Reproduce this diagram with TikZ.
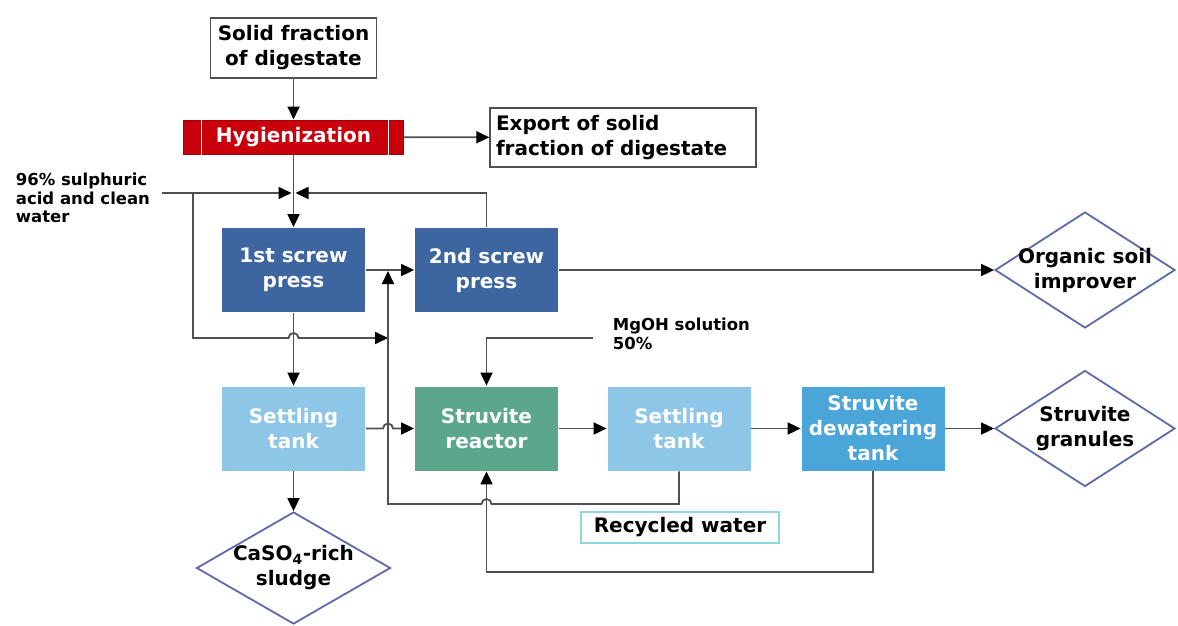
\documentclass[tikz,border=0pt]{standalone}
\usepackage{fontspec}
\setmainfont{DejaVu Sans}
\usetikzlibrary{arrows.meta,shapes.geometric}
\definecolor{linec}{HTML}{505050}
\definecolor{hygred}{HTML}{C9000B}
\definecolor{pressblue}{HTML}{3D66A0}
\definecolor{settleblue}{HTML}{8DC6E6}
\definecolor{reactgreen}{HTML}{5CA78B}
\definecolor{dewaterblue}{HTML}{4AA5D8}
\definecolor{dmdc}{HTML}{5A6BA8}
\definecolor{recycc}{HTML}{8FD8E3}
\newcommand\boxfont{\fontsize{20}{25}\selectfont\bfseries}
\newcommand\notefont{\fontsize{16.5}{18.5}\selectfont\bfseries}
\begin{document}
\begin{tikzpicture}[x=1pt,y=-1pt,line width=1.8pt,
  flow/.style={draw=linec,-{Triangle[length=13pt,width=12pt,color=black]}},
  box/.style={draw=linec,line width=1.4pt,fill=white,align=center,font=\boxfont},
  proc/.style={minimum width=143pt,minimum height=84pt,inner sep=0pt,align=center,text=white,font=\boxfont},
  outcome/.style={diamond,draw=dmdc,line width=1.8pt,inner sep=0pt,minimum width=180pt,minimum height=116pt},
  note/.style={anchor=west,inner sep=0pt,align=left,font=\notefont}]
  \useasboundingbox (0,0) rectangle (1178,626);
  % inputs and hygienization
  \node[box,minimum width=166pt,minimum height=60pt,inner sep=0pt] (solid) at (293.5,48) {Solid fraction\\of digestate};
  \node[fill=hygred,draw=hygred!80!black,line width=1pt,minimum width=220pt,minimum height=34pt,inner sep=0pt,text=white,font=\boxfont] (hyg) at (293.5,137) {Hygienization};
  \draw[white,line width=1pt] ([xshift=18pt]hyg.north west) -- ([xshift=18pt]hyg.south west);
  \draw[white,line width=1pt] ([xshift=-16pt]hyg.north east) -- ([xshift=-16pt]hyg.south east);
  \node[box,text width=254pt,inner sep=6pt,minimum height=59pt,align=left] (export) at (623,137.5) {Export of solid\\fraction of digestate};
  \node[note] (acidtxt) at (15,198) {96\% sulphuric\\acid and clean\\water};
  \node[note] (mgohtxt) at (612,334) {MgOH solution\\50\%};
  % process blocks
  \node[proc,fill=pressblue] (press1) at (293.5,270) {1st screw\\press};
  \node[proc,fill=pressblue] (press2) at (486.5,270) {2nd screw\\press};
  \node[proc,fill=settleblue] (settle1) at (293.5,428.5) {Settling\\tank};
  \node[proc,fill=reactgreen] (reactor) at (486.5,428.5) {Struvite\\reactor};
  \node[proc,fill=settleblue] (settle2) at (679,428.5) {Settling\\tank};
  \node[proc,fill=dewaterblue] (dewater) at (873,428.5) {Struvite\\dewatering\\tank};
  \node[draw=recycc,line width=1.4pt,minimum width=198pt,minimum height=31pt,inner sep=0pt,font=\boxfont] (recycled) at (680,527.5) {Recycled water};
  % products
  \node[outcome,label={[font=\boxfont,align=center]center:Organic soil\\improver}] (organic) at (1085,270) {};
  \node[outcome,label={[font=\boxfont,align=center]center:Struvite\\granules}] (granules) at (1085,428.5) {};
  \node[outcome,minimum width=194pt,minimum height=112pt,label={[font=\boxfont,align=center]center:CaSO\textsubscript{4}-rich\\sludge}] (caso) at (293.5,568) {};
  % junctions
  \coordinate (acid) at (162,193);
  \coordinate (mix) at (293.5,193);
  \coordinate (split) at (193,193);
  \coordinate (bend) at (193,338);
  \coordinate (riser) at (388,338);
  \coordinate (rec) at (388,504);
  \coordinate (mgoh) at (593,338);
  \coordinate (low) at (873,572);
  % connectors
  \draw[flow] (solid) -- (hyg);
  \draw[flow] (hyg) -- (export);
  \draw[flow] (hyg) -- (press1);
  \draw[flow,shorten >=2pt] (acid) -- (mix);
  \draw[flow,shorten >=2pt] (press2.north) |- (mix);
  \draw[flow] (split) -- (bend) -- ([xshift=-5pt]press1.south |- bend) arc[start angle=180,end angle=0,radius=5pt] -- (riser);
  \draw[flow] (press1) -- (press2);
  \draw[flow] (press2) -- (organic);
  \draw[flow] (press1) -- (settle1);
  \draw[flow] (settle1) -- (caso);
  \draw[flow] (settle1.east) -- ([xshift=-5pt]rec |- settle1.east) arc[start angle=180,end angle=0,radius=5pt] -- (reactor.west);
  \draw[flow] (mgoh) -| (reactor.north);
  \draw[flow] (reactor) -- (settle2);
  \draw[flow] (settle2) -- (dewater);
  \draw[flow] (dewater) -- (granules);
  \draw[flow,shorten >=1pt] (settle2.south) |- ([xshift=5pt]reactor.south |- rec) arc[start angle=0,end angle=180,radius=5pt] -- (rec) -- (rec |- press1.east);
  \draw[flow] (dewater.south) -- (low) -| (reactor.south);
\end{tikzpicture}
\end{document}
